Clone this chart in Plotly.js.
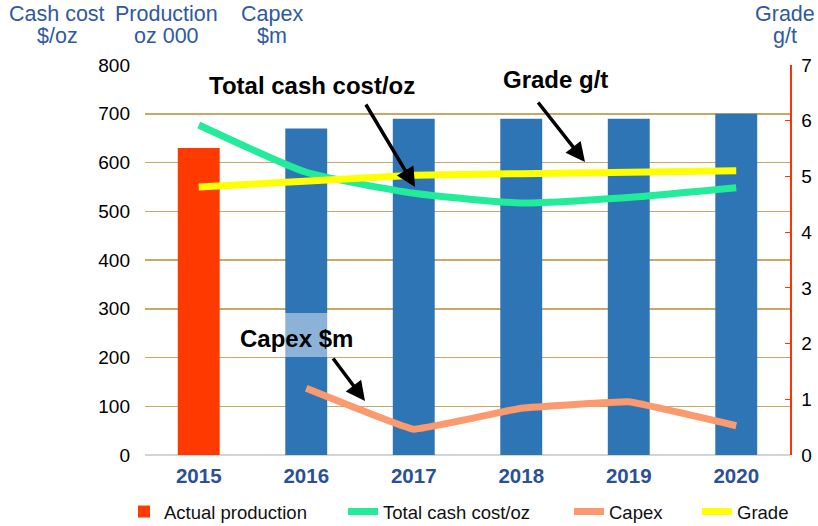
<!DOCTYPE html>
<html>
<head>
<meta charset="utf-8">
<script src="https://cdn.plot.ly/plotly-3.0.1.min.js"></script>
<style>html,body{margin:0;padding:0;background:#fff;}#chart{width:818px;height:526px;}</style>
</head>
<body>
<div id="chart"></div>
<script>
// ---- data ----
const years = ['2015', '2016', '2017', '2018', '2019', '2020'];
const actualYears = ['2015'];
const actualProduction = [630];
const forecastYears = ['2016', '2017', '2018', '2019', '2020'];
const forecastProduction = [670, 690, 690, 690, 700];
const cashCost = [677, 580, 537, 517, 528, 548];
const capexYears = ['2016', '2017', '2018', '2019', '2020'];
const capex = [137, 53, 96, 109, 60];
const grade = [4.81, 4.93, 5.02, 5.05, 5.07, 5.10];
const leftTicks = [0, 100, 200, 300, 400, 500, 600, 700, 800];
const rightTicks = [0, 1, 2, 3, 4, 5, 6, 7];

const FONT = '"Liberation Sans", Arial, sans-serif';
const BLUE_TXT = '#2f5a9f';

// ---- geometry helpers (plot area in pixels) ----
const L = 145, R = 790, T = 65, B = 455;
const px = x => (x - L) / (R - L);
const py = y => (B - y) / (B - T);

const traces = [
  { type: 'bar', x: actualYears, y: actualProduction, name: 'Actual production',
    marker: { color: '#ff3a00' }, width: 0.39, legend: 'legend' },
  { type: 'bar', x: forecastYears, y: forecastProduction, name: 'Forecast production',
    marker: { color: '#2e75b6' }, width: 0.39, showlegend: false },
  { type: 'scatter', mode: 'lines', x: years, y: cashCost, name: 'Total cash cost/oz',
    line: { color: '#22ec9a', width: 7, shape: 'spline', smoothing: 0.5 }, legend: 'legend2' },
  { type: 'scatter', mode: 'lines', x: capexYears, y: capex, name: 'Capex',
    line: { color: '#fb9a6e', width: 7, shape: 'spline', smoothing: 0.2 }, legend: 'legend3' },
  { type: 'scatter', mode: 'lines', x: years, y: grade, name: 'Grade', yaxis: 'y2',
    line: { color: '#ffff00', width: 7 }, legend: 'legend4' }
];

function headerAnn(text, xpx, ypx) {
  return { text: text, xref: 'paper', yref: 'paper', x: px(xpx), y: py(ypx),
    xanchor: 'center', yanchor: 'middle', showarrow: false,
    font: { family: FONT, size: 21.5, color: BLUE_TXT } };
}
function labelAnn(text, xpx, ypx) {
  return { text: '<b>' + text + '</b>', xref: 'paper', yref: 'paper', x: px(xpx), y: py(ypx),
    xanchor: 'center', yanchor: 'middle', showarrow: false,
    font: { family: FONT, size: 24, color: '#000' } };
}
function arrowAnn(tipX, tipY, tailX, tailY) {
  return { text: '', xref: 'paper', yref: 'paper', x: px(tipX), y: py(tipY),
    ax: tailX - tipX, ay: tailY - tipY, showarrow: true,
    arrowhead: 2, arrowsize: 1.1, arrowwidth: 3.5, arrowcolor: '#000' };
}

const legendBase = { orientation: 'h', yanchor: 'middle', xanchor: 'left', y: py(512),
  font: { family: FONT, size: 18.5, color: '#111' }, bgcolor: 'rgba(0,0,0,0)' };

const layout = {
  width: 818, height: 526,
  margin: { l: L, r: 818 - R, t: T, b: 526 - B, pad: 0, autoexpand: false },
  paper_bgcolor: '#fff', plot_bgcolor: '#fff',
  barmode: 'overlay',
  showlegend: true,
  font: { family: FONT },
  xaxis: {
    type: 'category', categoryorder: 'array', categoryarray: years,
    showgrid: false, zeroline: false, showline: false, ticks: '',
    tickfont: { family: FONT, size: 20.5, color: '#2a5196', weight: 'bold' },
    ticklabelstandoff: 6
  },
  yaxis: {
    range: [0, 800], tickvals: leftTicks, showgrid: true, gridcolor: '#c9a865', gridwidth: 1.5,
    zeroline: true, zerolinecolor: '#d4d4d4', zerolinewidth: 1.5,
    showline: false, ticks: '', tickfont: { family: FONT, size: 19, color: '#000' },
    ticklabelstandoff: 14
  },
  yaxis2: {
    overlaying: 'y', side: 'right', range: [0, 7], tickvals: rightTicks,
    showgrid: false, zeroline: false, showline: true, linecolor: '#ff3300', linewidth: 1.5,
    ticks: 'inside', ticklen: 5, tickcolor: '#ff3300', tickwidth: 1.2,
    tickfont: { family: FONT, size: 19, color: '#000' }, ticklabelstandoff: 6
  },
  legend: Object.assign({}, legendBase, { x: px(124) }),
  legend2: Object.assign({}, legendBase, { x: px(343) }),
  legend3: Object.assign({}, legendBase, { x: px(569) }),
  legend4: Object.assign({}, legendBase, { x: px(697) }),
  shapes: [
    { type: 'rect', xref: 'paper', yref: 'paper', x0: px(228), x1: px(368), y0: py(357), y1: py(313),
      fillcolor: 'rgba(255,255,255,0.45)', line: { width: 0 }, layer: 'above' }
  ],
  annotations: [
    headerAnn('Cash cost', 57, 14), headerAnn('$/oz', 57, 36),
    headerAnn('Production', 166, 14), headerAnn('oz 000', 166, 36),
    headerAnn('Capex', 272, 14), headerAnn('$m', 272, 36),
    headerAnn('Grade', 785, 14), headerAnn('g/t', 785, 36),
    labelAnn('Total cash cost/oz', 312, 85),
    labelAnn('Grade g/t', 555, 80),
    labelAnn('Capex $m', 296, 338),
    arrowAnn(415, 187, 365, 103),
    arrowAnn(585, 162, 537, 101),
    arrowAnn(365, 401, 332, 357)
  ]
};

Plotly.newPlot('chart', traces, layout, { displayModeBar: false, staticPlot: true });
</script>
</body>
</html>
